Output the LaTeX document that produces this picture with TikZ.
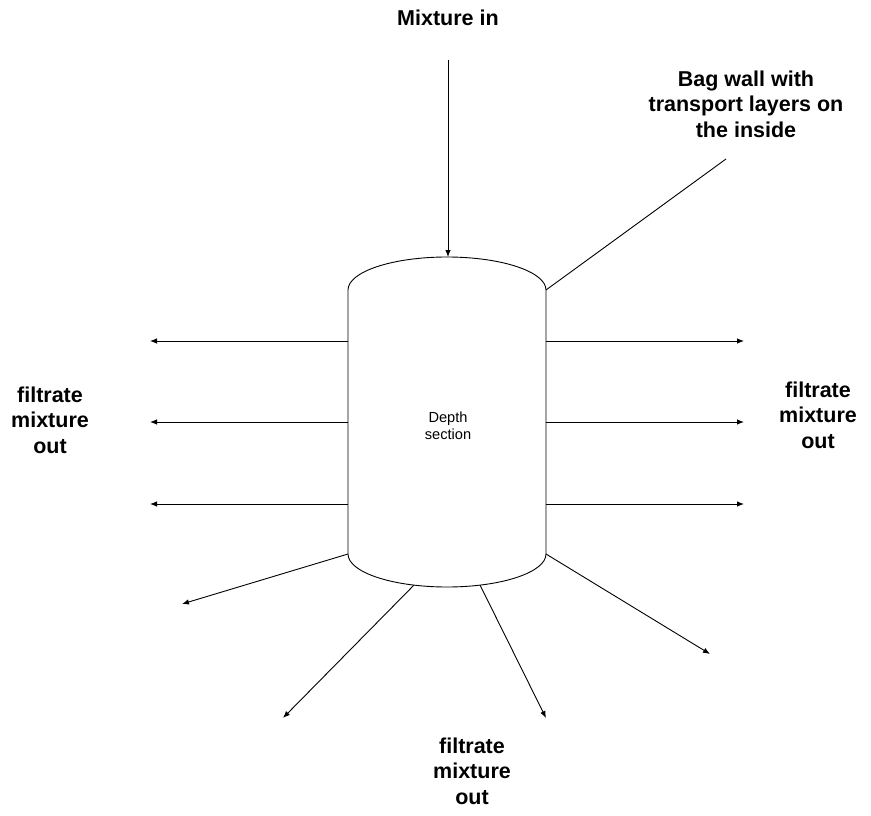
\documentclass[tikz,border=0pt]{standalone}
\usepackage{fontspec}
\setmainfont{Liberation Sans}
\usetikzlibrary{arrows.meta,calc}
\begin{document}
\begin{tikzpicture}[x=1pt,y=1pt,
  line width=0.9pt,
  conn/.style={draw=black,-{Latex[length=7pt,width=5.5pt]}},
  plain/.style={draw=black},
  biglabel/.style={align=center,font=\fontsize{21.5}{25.5}\selectfont\bfseries,inner sep=0pt},
  smalllabel/.style={align=center,font=\fontsize{14.6}{17}\selectfont,inner sep=0pt}]
\useasboundingbox (0,0) rectangle (871,-816);
% cylinder
\draw[plain] (348,-290) -- (348,-554)
  arc[start angle=180,end angle=360,x radius=99pt,y radius=33pt]
  -- (546,-290)
  arc[start angle=0,end angle=180,x radius=99pt,y radius=33pt] -- cycle;
\node[smalllabel] (depth) at (448,-426) {Depth\\section};
% named points on the cylinder
\coordinate (ctop) at (448,-257);
\coordinate (cTR) at (546,-290);
\coordinate (cBL) at (348,-554);
\coordinate (cBR) at (546,-554);
\coordinate (cB1) at ($(447,-554)+(250.5:99pt and 33pt)$);
\coordinate (cB2) at ($(447,-554)+(289.5:99pt and 33pt)$);
\coordinate (L1) at (348,-341);
\coordinate (L2) at (348,-422);
\coordinate (L3) at (348,-504);
\coordinate (R1) at (546,-341);
\coordinate (R2) at (546,-422);
\coordinate (R3) at (546,-504);
% free ends
\coordinate (inStart) at (448,-60);
\coordinate (bagEnd) at (726,-159);
\coordinate (oL1) at (150,-341);
\coordinate (oL2) at (150,-422);
\coordinate (oL3) at (150,-504);
\coordinate (oR1) at (744,-341);
\coordinate (oR2) at (744,-422);
\coordinate (oR3) at (744,-504);
\coordinate (oB1) at (182,-604);
\coordinate (oB2) at (283,-718);
\coordinate (oB3) at (546,-718);
\coordinate (oB4) at (710,-654);
% labels
\node[biglabel] (mixin) at (448,-18) {Mixture in};
\node[biglabel] (bag) at (746,-104) {Bag wall with\\transport layers on\\the inside};
\node[biglabel] (outL) at (50,-420) {filtrate\\mixture\\out};
\node[biglabel] (outR) at (818,-415) {filtrate\\mixture\\out};
\node[biglabel] (outB) at (472,-771) {filtrate\\mixture\\out};
% connectors
\draw[conn] (inStart) -- (ctop);
\draw[plain] (cTR) -- (bagEnd);
\draw[conn] (L1) -- (oL1);
\draw[conn] (L2) -- (oL2);
\draw[conn] (L3) -- (oL3);
\draw[conn] (R1) -- (oR1);
\draw[conn] (R2) -- (oR2);
\draw[conn] (R3) -- (oR3);
\draw[conn] (cBL) -- (oB1);
\draw[conn] (cB1) -- (oB2);
\draw[conn] (cB2) -- (oB3);
\draw[conn] (cBR) -- (oB4);
\end{tikzpicture}
\end{document}
